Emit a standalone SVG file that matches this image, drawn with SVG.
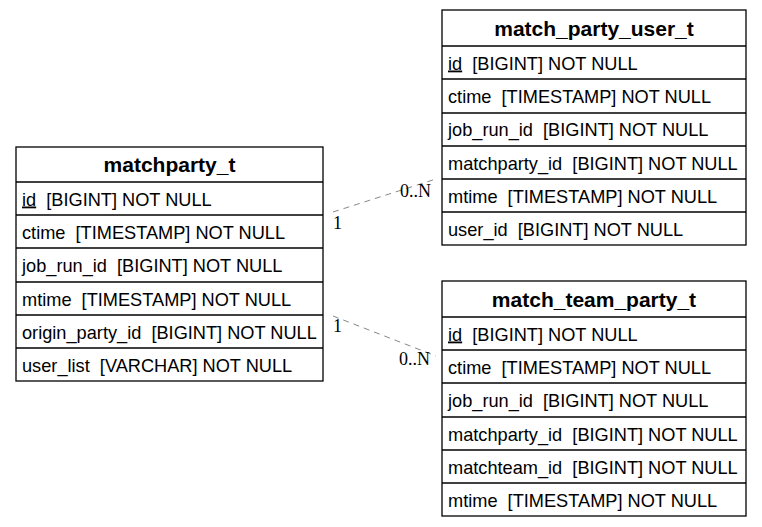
<svg xmlns="http://www.w3.org/2000/svg" width="762" height="527" viewBox="0 0 762 527">
<style>
.box{fill:#fff;stroke:#000;stroke-width:1.3}
.sep{stroke:#000;stroke-width:1.3}
.title{font-family:"Liberation Sans",Arial,sans-serif;font-weight:bold;font-size:21px;text-anchor:middle;fill:#000}
.f{font-family:"Liberation Sans",Arial,sans-serif;font-size:18.2px;fill:#000;white-space:pre}
.edge{fill:none;stroke:#888;stroke-width:1;stroke-dasharray:6,5}
.lbl{font-family:"Liberation Serif","Times New Roman",serif;font-size:18px;fill:#000}
</style>
<rect width="762" height="527" fill="#fff"/>
<g id="connectors">
<path class="edge" d="M333,212 L436,179"/>
<path class="edge" d="M333,316 L436,356"/>
<text class="lbl" x="333" y="228.5">1</text>
<text class="lbl" x="400" y="196.5">0..N</text>
<text class="lbl" x="333" y="331.5">1</text>
<text class="lbl" x="399" y="364.5">0..N</text>
</g>
<g id="matchparty_t">
<rect class="box" x="16" y="147" width="307" height="234"/>
<line class="sep" x1="16" y1="182" x2="323" y2="182"/>
<line class="sep" x1="16" y1="215" x2="323" y2="215"/>
<line class="sep" x1="16" y1="248" x2="323" y2="248"/>
<line class="sep" x1="16" y1="282" x2="323" y2="282"/>
<line class="sep" x1="16" y1="315" x2="323" y2="315"/>
<line class="sep" x1="16" y1="348" x2="323" y2="348"/>
<text class="title" x="169.5" y="172">matchparty_t</text>
<text class="f" x="22" y="205.5" xml:space="preserve"><tspan text-decoration="underline">id</tspan>  [BIGINT] NOT NULL</text>
<text class="f" x="22" y="238.5" xml:space="preserve">ctime  [TIMESTAMP] NOT NULL</text>
<text class="f" x="22" y="271.5" xml:space="preserve">job_run_id  [BIGINT] NOT NULL</text>
<text class="f" x="22" y="305.5" xml:space="preserve">mtime  [TIMESTAMP] NOT NULL</text>
<text class="f" x="22" y="338.5" xml:space="preserve">origin_party_id  [BIGINT] NOT NULL</text>
<text class="f" x="22" y="371.5" xml:space="preserve">user_list  [VARCHAR] NOT NULL</text>
</g>
<g id="match_party_user_t">
<rect class="box" x="442" y="10" width="304" height="235"/>
<line class="sep" x1="442" y1="46" x2="746" y2="46"/>
<line class="sep" x1="442" y1="79" x2="746" y2="79"/>
<line class="sep" x1="442" y1="113" x2="746" y2="113"/>
<line class="sep" x1="442" y1="146" x2="746" y2="146"/>
<line class="sep" x1="442" y1="179" x2="746" y2="179"/>
<line class="sep" x1="442" y1="212" x2="746" y2="212"/>
<text class="title" x="594" y="36">match_party_user_t</text>
<text class="f" x="448" y="69.5" xml:space="preserve"><tspan text-decoration="underline">id</tspan>  [BIGINT] NOT NULL</text>
<text class="f" x="448" y="102.5" xml:space="preserve">ctime  [TIMESTAMP] NOT NULL</text>
<text class="f" x="448" y="135.5" xml:space="preserve">job_run_id  [BIGINT] NOT NULL</text>
<text class="f" x="448" y="169.5" xml:space="preserve">matchparty_id  [BIGINT] NOT NULL</text>
<text class="f" x="448" y="202.5" xml:space="preserve">mtime  [TIMESTAMP] NOT NULL</text>
<text class="f" x="448" y="235.5" xml:space="preserve">user_id  [BIGINT] NOT NULL</text>
</g>
<g id="match_team_party_t">
<rect class="box" x="442" y="281" width="304" height="235"/>
<line class="sep" x1="442" y1="317" x2="746" y2="317"/>
<line class="sep" x1="442" y1="350" x2="746" y2="350"/>
<line class="sep" x1="442" y1="383" x2="746" y2="383"/>
<line class="sep" x1="442" y1="417" x2="746" y2="417"/>
<line class="sep" x1="442" y1="450" x2="746" y2="450"/>
<line class="sep" x1="442" y1="483" x2="746" y2="483"/>
<text class="title" x="594" y="307">match_team_party_t</text>
<text class="f" x="448" y="340.5" xml:space="preserve"><tspan text-decoration="underline">id</tspan>  [BIGINT] NOT NULL</text>
<text class="f" x="448" y="373.5" xml:space="preserve">ctime  [TIMESTAMP] NOT NULL</text>
<text class="f" x="448" y="406.5" xml:space="preserve">job_run_id  [BIGINT] NOT NULL</text>
<text class="f" x="448" y="440.5" xml:space="preserve">matchparty_id  [BIGINT] NOT NULL</text>
<text class="f" x="448" y="473.5" xml:space="preserve">matchteam_id  [BIGINT] NOT NULL</text>
<text class="f" x="448" y="506.5" xml:space="preserve">mtime  [TIMESTAMP] NOT NULL</text>
</g>
</svg>
